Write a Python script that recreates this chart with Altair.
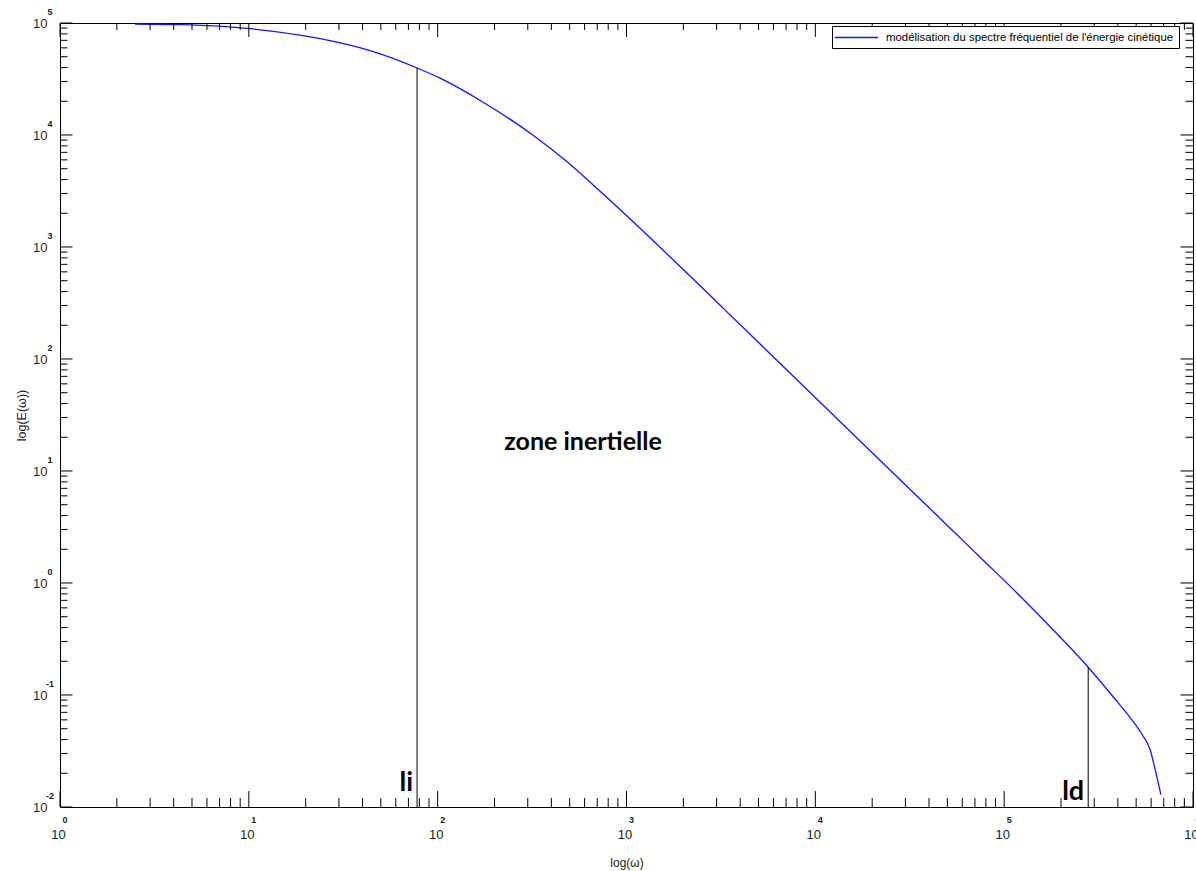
import altair as alt
import pandas as pd

# Modelled kinetic-energy frequency spectrum E(omega), log-log
omega = [2.495, 4.482, 10.15, 19.37, 29.33, 43.85, 77.79, 103.0, 174.0, 320.1,
         484.6, 724.8, 1333.5, 2094, 3132, 4684, 7089, 10603, 19513, 34610,
         51760, 77440, 117200, 175200, 278600, 396700, 464900, 538200, 593300,
         630600, 676100]
energy = [97965, 96567, 88941, 77035, 67409, 56571, 39655, 32145, 19630, 9959,
          5775, 3149, 1211, 583.5, 302.2, 156.5, 79.43, 41.14, 15.18, 5.957,
          3.085, 1.598, 0.8107, 0.4072, 0.1771, 0.08713, 0.06269, 0.04420,
          0.03248, 0.02153, 0.01288]

# Boundaries of the inertial range
li_omega, li_energy = 77.79, 39655
ld_omega, ld_energy = 278600, 0.1771

series_label = "modélisation du spectre fréquentiel de l'énergie cinétique"

x_exponents = [0, 1, 2, 3, 4, 5, 6]
y_exponents = [-2, -1, 0, 1, 2, 3, 4, 5]

# Annotation texts and anchors (omega, E)
zone_text = ["zone inertielle"]
zone_pos = [(589, 15.5)]
bound_text = ["li", "ld"]
bound_pos = [(li_omega, 0.0140), (ld_omega, 0.0116)]

W, H = 1133, 784
NARROW = "'Liberation Sans Narrow', 'Liberation Sans', Arial, sans-serif"
SANS = "'Liberation Sans', Arial, sans-serif"

xs = alt.Scale(type="log", domain=[1, 1e6], nice=False)
ys = alt.Scale(type="log", domain=[1e-2, 1e5], nice=False)

x_major = [10.0 ** e for e in x_exponents]
y_major = [10.0 ** e for e in y_exponents]
x_minor = [k * 10.0 ** d for d in x_exponents[:-1] for k in range(2, 10)]
y_minor = [k * 10.0 ** d for d in y_exponents[:-1] for k in range(2, 10)]

# One axis definition per channel, shared by every layer
xaxis = alt.Axis(title="log(ω)", values=x_major, labelExpr="'10'", ticks=False,
                 tickSize=0, domain=False, grid=False, labelPadding=21, labelOffset=-2,
                 labelFontSize=13, labelFont=NARROW, labelColor="#222",
                 labelBaseline="top", titleFont=SANS, titleFontSize=12,
                 titleFontWeight="normal", titlePadding=16, titleColor="#222",
                 labelFlush=False, labelOverlap=False)
yaxis = alt.Axis(title="log(E(ω))", values=y_major, labelExpr="'10'", ticks=False,
                 tickSize=0, domain=False, grid=False, labelPadding=13,
                 labelFontSize=13, labelFont=NARROW, labelColor="#222",
                 titleFont=SANS, titleFontSize=12.5, titleFontWeight="normal",
                 titlePadding=4, titleColor="#222",
                 labelFlush=False, labelOverlap=False)


def X(field):
    return alt.X(field, scale=xs, axis=xaxis)


def Y(field):
    return alt.Y(field, scale=ys, axis=yaxis)


curve = pd.DataFrame({"omega": omega, "E": energy, "serie": series_label})

line = alt.Chart(curve).mark_line(strokeWidth=1.3, interpolate="monotone").encode(
    x=X("omega:Q"),
    y=Y("E:Q"),
    color=alt.Color("serie:N",
                    scale=alt.Scale(domain=[series_label], range=["#1414ff"]),
                    legend=alt.Legend(title=None, orient="none", legendX=772, legendY=3,
                                      strokeColor="black", fillColor="white", padding=5,
                                      symbolType="M-1.6,0H6.4", symbolSize=116,
                                      symbolStrokeWidth=1.3, labelOffset=36,
                                      labelFont=NARROW, labelFontSize=11.4, labelLimit=500,
                                      labelColor="black")),
)

bounds = pd.DataFrame({
    "omega": [li_omega, ld_omega],
    "E0": [1e-2, 1e-2],
    "E1": [li_energy, ld_energy],
})
vlines = alt.Chart(bounds).mark_rule(color="black", strokeWidth=1).encode(
    x=X("omega:Q"), y=Y("E0:Q"), y2="E1:Q",
)


def tick_layer(vals, side, length):
    df = pd.DataFrame({"v": vals})
    base = alt.Chart(df).mark_rule(color="black", strokeWidth=1)
    if side == "bottom":
        return base.encode(x=X("v:Q"), y=alt.value(H - length), y2=alt.value(H))
    if side == "top":
        return base.encode(x=X("v:Q"), y=alt.value(0), y2=alt.value(length))
    if side == "left":
        return base.encode(y=Y("v:Q"), x=alt.value(0), x2=alt.value(length))
    return base.encode(y=Y("v:Q"), x=alt.value(W - length), x2=alt.value(W))


ticks = [
    tick_layer(x_major, "bottom", 16), tick_layer(x_minor, "bottom", 9),
    tick_layer(x_major, "top", 14), tick_layer(x_minor, "top", 7),
    tick_layer(y_major, "left", 12.5), tick_layer(y_minor, "left", 7.5),
    tick_layer(y_major, "right", 12.5), tick_layer(y_minor, "right", 7.5),
]

# Exponents of the decade labels
xexp = pd.DataFrame({"omega": x_major, "E": [1e-2] * len(x_major),
                     "t": [str(e) for e in x_exponents]})
xexp_layer = alt.Chart(xexp).mark_text(fontSize=9, fontWeight="bold", font=NARROW,
                                       dx=5, dy=13, color="#222").encode(
    x=X("omega:Q"), y=Y("E:Q"), text="t:N")

yexp = pd.DataFrame({"omega": [1.0] * len(y_major), "E": y_major,
                     "t": [str(e) for e in y_exponents]})
yexp_layer = alt.Chart(yexp).mark_text(fontSize=9, fontWeight="bold", font=NARROW,
                                       dx=-10, dy=-11, color="#222").encode(
    x=X("omega:Q"), y=Y("E:Q"), text="t:N")

zone = pd.DataFrame({"omega": [p[0] for p in zone_pos], "E": [p[1] for p in zone_pos],
                     "t": zone_text})
zone_layer = alt.Chart(zone).mark_text(font="Lato", fontWeight="bold", fontSize=25,
                                       align="center", baseline="alphabetic",
                                       color="black").encode(
    x=X("omega:Q"), y=Y("E:Q"), text="t:N")

blab = pd.DataFrame({"omega": [p[0] for p in bound_pos], "E": [p[1] for p in bound_pos],
                     "t": bound_text})
blab_layer = alt.Chart(blab).mark_text(font="Lato", fontWeight="bold", fontSize=27,
                                       align="right", baseline="alphabetic", dx=-4,
                                       color="black").encode(
    x=X("omega:Q"), y=Y("E:Q"), text="t:N")

chart = alt.layer(line, vlines, *ticks, xexp_layer, yexp_layer, zone_layer, blab_layer).properties(
    width=W, height=H,
    autosize=alt.AutoSizeParams(type="none"),
    padding={"left": 60, "top": 23, "right": 3, "bottom": 64},
    background="white",
).configure_view(stroke="black", strokeWidth=1)

chart.save("out.html", embed_options={"renderer": "svg", "actions": False})
